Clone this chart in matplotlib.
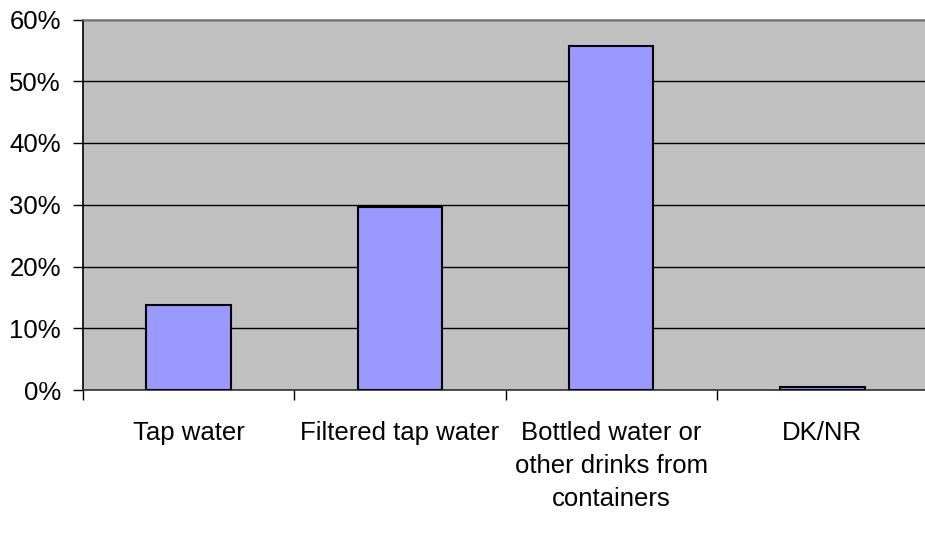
import matplotlib
matplotlib.use("Agg")
import matplotlib.pyplot as plt
from matplotlib.ticker import FuncFormatter

categories = ["Tap water", "Filtered tap water", "Bottled water or\nother drinks from\ncontainers", "DK/NR"]
values = [13.7, 29.7, 55.7, 0.5]
yticks = [0, 10, 20, 30, 40, 50, 60]

plt.rcParams['font.family'] = ['Liberation Sans', 'DejaVu Sans']

fig = plt.figure(figsize=(9.25, 5.39), dpi=100)
ax = fig.add_axes([83/925, 149/539, 845/925, 370.5/539])
ax.set_facecolor('#C0C0C0')

x = list(range(len(categories)))
ax.bar(x, values, width=0.4, color='#9999FF', edgecolor='black', linewidth=1.5, zorder=3)

ax.set_xlim(-0.5, len(categories) - 0.5)
ax.set_ylim(0, 60)
ax.set_yticks(yticks)
ax.yaxis.set_major_formatter(FuncFormatter(lambda v, p: f"{int(v)}%"))
ax.yaxis.grid(True, color='black', linewidth=1.0, zorder=1)
ax.set_axisbelow(True)

ax.set_xticks([i - 0.5 for i in range(len(categories) + 1)], minor=False)
ax.set_xticklabels([])
ax.set_xticks(x, minor=True)
ax.set_xticklabels(categories, minor=True, fontsize=18.5, linespacing=1.48, va='top')
ax.tick_params(axis='x', which='major', direction='out', length=7, width=1, color='black')
ax.tick_params(axis='x', which='minor', length=0, pad=22)
ax.tick_params(axis='y', direction='out', length=7, width=1, color='black', labelsize=18.5, pad=9)

for s in ['left', 'bottom']:
    ax.spines[s].set_color('black')
    ax.spines[s].set_linewidth(1.2)
ax.spines['bottom'].set_color('#333333')
ax.spines['top'].set_color('#808080')
ax.spines['top'].set_linewidth(1.2)
ax.spines['right'].set_visible(False)

fig.savefig('out.png', dpi=100)
